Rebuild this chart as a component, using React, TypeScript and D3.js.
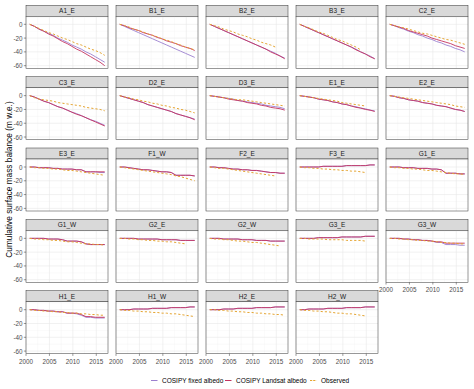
import React from "react";
import * as d3 from "d3";

const panels: string[] = [
  "A1_E", "B1_E", "B2_E", "B3_E", "C2_E",
  "C3_E", "D2_E", "D3_E", "E1_E", "E2_E",
  "E3_E", "F1_W", "F2_E", "F3_E", "G1_E",
  "G1_W", "G2_E", "G2_W", "G3_E", "G3_W",
  "H1_E", "H1_W", "H2_E", "H2_W",
];

const years: number[] = [
  2000.8, 2001.8, 2002.8, 2003.8, 2004.8, 2005.8, 2006.8, 2007.8, 2008.8,
  2009.8, 2010.8, 2011.8, 2012.8, 2013.8, 2014.8, 2015.8, 2016.8,
];

const xTicks: number[] = [2000, 2005, 2010, 2015];
const xMinor: number[] = [2002.5, 2007.5, 2012.5];
const yTicks: number[] = [0, -20, -40, -60];
const yMinor: number[] = [10, -10, -30, -50];

const seriesNames: string[] = ["COSIPY fixed albedo", "COSIPY Landsat albedo", "Observed"];

const fixedAlbedo: number[][] = [
  [0, -3, -7, -10, -13, -16, -20, -23, -26, -30, -33, -36, -40, -43, -47, -51, -55],
  [0, -3, -6, -9, -12, -15, -18, -21, -24, -27, -30, -33, -36, -39, -42, -45, -48],
  [0, -3, -6, -9, -12, -15, -18, -21, -24, -27, -30, -33, -36, -39, -42, -46, -49],
  [0, -3, -6, -9, -12, -15, -18, -21, -24, -27, -30, -33, -36, -40, -43, -46, -50],
  [0, -2, -5, -7, -10, -12, -15, -17, -20, -22, -25, -27, -30, -32, -35, -37, -40],
  [0, -2, -5, -8, -10, -13, -16, -18, -21, -24, -26, -29, -32, -35, -37, -40, -43],
  [0, -2, -4, -6, -8, -10, -13, -15, -17, -19, -21, -23, -26, -28, -30, -32, -34],
  [0, -1, -2, -3, -4, -5, -7, -8, -9, -10, -11, -12, -14, -15, -16, -17, -19],
  [0, -1, -2, -3, -5, -6, -7, -9, -10, -12, -13, -15, -16, -18, -19, -21, -22],
  [0, -1, -3, -4, -6, -7, -8, -10, -11, -12, -14, -15, -16, -18, -20, -21, -23],
  [0, 0, -1, -1, -1, -2, -2, -3, -3, -3, -4, -4, -7, -7, -7, -8, -8],
  [0, 0, -1, -2, -3, -4, -4, -5, -6, -7, -7, -8, -12, -12, -12, -12, -13],
  [0, 0, -1, -1, -2, -3, -3, -4, -4, -5, -5, -6, -7, -8, -8, -9, -9],
  [0, 0, 0, 0, 0, 1, 1, 1, 1, 1, 2, 2, 2, 2, 2, 3, 3],
  [0, 0, 0, -1, -1, -1, -2, -2, -2, -3, -3, -4, -9, -9, -9, -10, -10],
  [0, 0, 0, 0, -1, -1, -1, -2, -4, -4, -4, -5, -8, -9, -9, -9, -9],
  [0, 0, 0, 0, -1, -1, -1, -1, -1, -2, -2, -2, -2, -3, -3, -3, -3],
  [0, 0, 0, -1, -1, -1, -1, -2, -2, -2, -3, -3, -3, -4, -4, -4, -4],
  [0, 0, 0, 0, 1, 1, 1, 1, 1, 2, 2, 2, 2, 2, 3, 3, 3],
  [0, 0, 0, -1, -1, -2, -2, -3, -3, -4, -6, -6, -9, -9, -9, -10, -10],
  [0, 0, -1, -1, -2, -2, -3, -3, -5, -5, -6, -8, -11, -11, -12, -12, -12],
  [0, 0, 0, 1, 1, 1, 1, 2, 2, 2, 2, 3, 3, 3, 3, 4, 4],
  [0, 0, 0, 1, 1, 1, 2, 2, 2, 2, 3, 3, 3, 3, 4, 4, 4],
  [0, 0, 1, 1, 1, 1, 2, 2, 2, 2, 3, 3, 3, 3, 4, 4, 4],
];

const landsatAlbedo: number[][] = [
  [0, -3, -7, -10, -14, -17, -21, -25, -28, -32, -36, -39, -43, -47, -51, -55, -60],
  [0, -2, -5, -7, -9, -12, -14, -16, -19, -21, -24, -26, -28, -31, -33, -35, -38],
  [0, -3, -6, -9, -12, -15, -18, -21, -24, -27, -30, -33, -36, -40, -43, -46, -50],
  [0, -3, -6, -9, -12, -15, -18, -21, -24, -27, -30, -33, -37, -40, -43, -47, -50],
  [0, -2, -4, -6, -9, -11, -13, -15, -17, -20, -22, -24, -26, -28, -31, -33, -35],
  [0, -2, -5, -8, -10, -13, -16, -18, -21, -24, -27, -29, -32, -35, -38, -41, -44],
  [0, -2, -4, -6, -8, -10, -13, -15, -17, -19, -21, -23, -26, -28, -30, -32, -35],
  [0, -1, -2, -3, -5, -6, -7, -8, -10, -11, -12, -14, -15, -17, -18, -19, -21],
  [0, -1, -2, -3, -5, -6, -7, -9, -10, -12, -13, -15, -17, -18, -20, -21, -23],
  [0, -1, -3, -4, -6, -7, -8, -10, -11, -12, -14, -15, -16, -18, -20, -21, -23],
  [0, 0, -1, -1, -1, -2, -2, -3, -3, -3, -4, -4, -7, -7, -7, -7, -7],
  [0, 0, -1, -2, -3, -4, -4, -5, -6, -7, -7, -8, -12, -12, -12, -12, -13],
  [0, 0, -1, -1, -2, -3, -3, -4, -4, -5, -5, -6, -7, -8, -8, -9, -9],
  [0, 0, 0, 0, 0, 1, 1, 1, 1, 1, 2, 2, 2, 2, 2, 3, 3],
  [0, 0, 0, -1, -1, -1, -2, -2, -2, -3, -3, -4, -9, -9, -9, -10, -10],
  [0, 0, 0, 0, -1, -1, -1, -2, -4, -4, -4, -5, -8, -9, -9, -9, -9],
  [0, 0, 0, 0, -1, -1, -1, -1, -1, -2, -2, -2, -2, -3, -3, -3, -3],
  [0, 0, 0, -1, -1, -1, -1, -2, -2, -2, -3, -3, -3, -4, -4, -4, -4],
  [0, 0, 0, 0, 1, 1, 1, 1, 1, 2, 2, 2, 2, 2, 3, 3, 3],
  [0, 0, 0, -1, -1, -2, -2, -3, -3, -4, -5, -5, -7, -7, -7, -7, -7],
  [0, 0, -1, -1, -2, -2, -3, -3, -5, -5, -5, -7, -10, -10, -11, -11, -11],
  [0, 0, 0, 1, 1, 1, 1, 2, 2, 2, 2, 3, 3, 3, 3, 4, 4],
  [0, 0, 0, 1, 1, 1, 2, 2, 2, 2, 3, 3, 3, 3, 4, 4, 4],
  [0, 0, 1, 1, 1, 1, 2, 2, 2, 2, 3, 3, 3, 3, 4, 4, 4],
];

const observed: (number | null)[][] = [
  [0, -3, -6, -9, -12, -14, -17, -20, -22, -25, -28, -30, -33, -36, -38, -41, -45],
  [0, -2, -4, -7, -9, -11, -14, -16, -18, -21, -23, -25, -28, -30, -33, -35, -37],
  [0, -2, -4, -7, -9, -11, -14, -16, -18, -21, -23, -26, -28, -30, -33, null, null],
  [0, -3, -5, -8, -11, -13, -16, -19, -22, -24, -27, -30, -33, -37, null, null, null],
  [0, -2, -4, -5, -7, -9, -11, -13, -14, -16, -18, -20, -22, -23, -25, -27, -29],
  [0, -3, -5, -6, -7, -8, -10, -11, -12, -13, -14, -15, -17, -18, -19, -20, -22],
  [0, -2, -3, -5, -6, -8, -9, -11, -12, -14, -15, -17, -18, -20, -21, -23, -25],
  [0, -1, -2, -3, -4, -5, -6, -6, -7, -8, -9, -10, -11, -12, -13, -14, -15],
  [0, -1, -2, -3, -4, -5, -6, -7, -8, -10, -11, -12, -13, -14, -15, null, null],
  [0, -1, -2, -3, -4, -5, -6, -7, -8, -9, -10, -11, -12, -13, -15, -16, -17],
  [0, -1, -1, -2, -2, -3, -3, -4, -5, -5, -6, -7, -8, -9, -10, -11, -12],
  [0, -1, -2, -3, -4, -5, -6, -7, -8, -9, -10, -11, -13, -14, -16, -18, -20],
  [0, -1, -2, -2, -3, -4, -5, -6, -7, -8, -9, -10, -11, -12, -13, null, null],
  [0, -1, -1, -2, -2, -3, -3, -4, -4, -5, -5, -6, -6, -7, -8, null, null],
  [0, -1, -1, -2, -2, -3, -3, -4, -5, -5, -6, -7, -8, -9, -10, -10, -11],
  [0, -1, -1, -2, -2, -3, -3, -4, -5, -5, -6, -7, -8, -8, -9, -9, -10],
  [0, 0, -1, -1, -2, -2, -3, -3, -4, -4, -5, -5, -6, -7, -8, null, null],
  [0, -1, -1, -2, -2, -3, -4, -4, -5, -6, -6, -7, -8, -9, -10, -11, null],
  [0, 0, -1, -1, -1, -1, -2, -2, -2, -2, -3, -3, -3, -3, -4, null, null],
  [0, 0, -1, -1, -2, -2, -3, -3, -4, -4, -5, -6, -6, -7, -7, -8, -8],
  [0, -1, -1, -2, -2, -3, -3, -4, -4, -5, -5, -6, -6, -7, -7, -8, -8],
  [0, -1, -1, -2, -2, -3, -3, -4, -4, -5, -5, -6, -6, -7, -8, -9, -10],
  [0, 0, -1, -1, -2, -2, -3, -3, -4, -4, -5, -5, -6, -6, -7, -7, -8],
  [0, -1, -1, -2, -2, -3, -3, -4, -5, -5, -6, -6, -7, -8, -9, null, null],
];

const W = 474;
const H = 389;
const NCOL = 5;
const colX0 = 26;
const colPitch = 90;
const panelW = 82;
const rowY0 = 5.3;
const rowPitch = 71.35;
const stripH = 11;
const panelH = 52;

const COLORS = ["#9B7FCF", "#C4325F", "#E5A532"];
const FONT = "'Liberation Sans', Arial, Helvetica, sans-serif";

export default function App() {
  const x = d3.scaleLinear().domain([2000, 2017.5]).range([0, panelW]);
  const y = d3.scaleLinear().domain([-63.8, 11.6]).range([panelH, 0]);

  const lineGen = d3
    .line<[number, number | null]>()
    .defined((d) => d[1] !== null)
    .x((d) => x(d[0]))
    .y((d) => y(d[1] as number));

  const nPanels = panels.length;
  const nRows = Math.ceil(nPanels / NCOL);
  const yTitleY = (rowY0 + (rowY0 + (nRows - 1) * rowPitch + stripH + panelH)) / 2;

  return (
    <svg
      width={W}
      height={H}
      style={{ position: "absolute", left: 0, top: 0, background: "#fff" }}
      fontFamily={FONT}
    >
      <rect width={W} height={H} fill="#fff" />
      <text
        transform={`translate(8.5,${yTitleY}) rotate(-90)`}
        textAnchor="middle"
        dominantBaseline="central"
        fontSize={8.3}
        fill="#000"
      >
        Cumulative surface mass balance (m w.e.)
      </text>
      {panels.map((name, i) => {
        const col = i % NCOL;
        const row = Math.floor(i / NCOL);
        const px = colX0 + col * colPitch;
        const sy = rowY0 + row * rowPitch;
        const py = sy + stripH;
        const belowIdx = i + NCOL;
        const showX = belowIdx >= nPanels;
        const showY = col === 0;
        const series: [number, number | null][][] = [
          years.map((yr, k) => [yr, fixedAlbedo[i][k]]),
          years.map((yr, k) => [yr, landsatAlbedo[i][k]]),
          years.map((yr, k) => [yr, observed[i][k]]),
        ];
        return (
          <g key={name}>
            <rect x={px} y={sy} width={panelW} height={stripH} fill="#D9D9D9" stroke="#333" strokeWidth={0.5} />
            <text
              x={px + panelW / 2}
              y={sy + stripH / 2}
              textAnchor="middle"
              dominantBaseline="central"
              fontSize={6.5}
              fill="#1a1a1a"
            >
              {name}
            </text>
            <g transform={`translate(${px},${py})`}>
              <rect width={panelW} height={panelH} fill="#fff" />
              {xMinor.map((t) => (
                <line key={"xm" + t} x1={x(t)} x2={x(t)} y1={0} y2={panelH} stroke="#F2F2F2" strokeWidth={0.4} />
              ))}
              {yMinor.map((t) => (
                <line key={"ym" + t} x1={0} x2={panelW} y1={y(t)} y2={y(t)} stroke="#F2F2F2" strokeWidth={0.4} />
              ))}
              {xTicks.map((t) => (
                <line key={"xg" + t} x1={x(t)} x2={x(t)} y1={0} y2={panelH} stroke="#E8E8E8" strokeWidth={0.6} />
              ))}
              {yTicks.map((t) => (
                <line key={"yg" + t} x1={0} x2={panelW} y1={y(t)} y2={y(t)} stroke="#E8E8E8" strokeWidth={0.6} />
              ))}
              {series.map((s, k) => (
                <path
                  key={"s" + k}
                  d={lineGen(s) || ""}
                  fill="none"
                  stroke={COLORS[k]}
                  strokeWidth={k === 2 ? 1 : 0.9}
                  strokeDasharray={k === 2 ? "2.2,2" : undefined}
                />
              ))}
              <rect width={panelW} height={panelH} fill="none" stroke="#333" strokeWidth={0.5} />
              {showY &&
                yTicks.map((t) => (
                  <g key={"yt" + t}>
                    <line x1={-2.2} x2={0} y1={y(t)} y2={y(t)} stroke="#333" strokeWidth={0.5} />
                    <text x={-3.5} y={y(t)} textAnchor="end" dominantBaseline="central" fontSize={6.3} fill="#4d4d4d">
                      {t}
                    </text>
                  </g>
                ))}
              {showX &&
                xTicks.map((t) => (
                  <g key={"xt" + t}>
                    <line x1={x(t)} x2={x(t)} y1={panelH} y2={panelH + 2.2} stroke="#333" strokeWidth={0.5} />
                    <text x={x(t)} y={panelH + 7.5} textAnchor="middle" dominantBaseline="central" fontSize={6.3} fill="#4d4d4d">
                      {t}
                    </text>
                  </g>
                ))}
            </g>
          </g>
        );
      })}
      {/* legend */}
      {seriesNames.map((nm, k) => {
        const keyX = [151, 225, 310][k];
        return (
          <g key={nm}>
            <line
              x1={keyX}
              x2={keyX + 6.5}
              y1={380.5}
              y2={380.5}
              stroke={COLORS[k]}
              strokeWidth={1}
              strokeDasharray={k === 2 ? "2.2,1" : undefined}
            />
            <text x={keyX + 11} y={380.5} dominantBaseline="central" fontSize={6.5} fill="#000">
              {nm}
            </text>
          </g>
        );
      })}
    </svg>
  );
}
